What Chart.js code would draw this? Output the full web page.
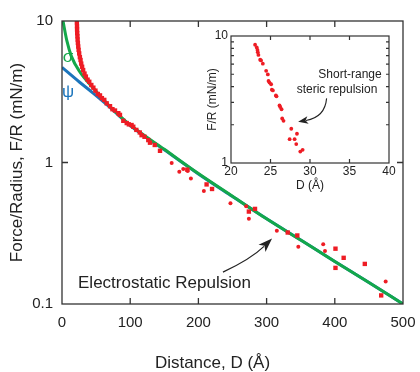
<!DOCTYPE html>
<html><head><meta charset="utf-8">
<script src="https://cdn.jsdelivr.net/npm/chart.js@4.4.1/dist/chart.umd.min.js"></script>
<style>
html,body{margin:0;padding:0;background:#fff;}
#wrap{position:relative;width:420px;height:372px;}
#main{position:absolute;left:0;top:0;}
#inset{position:absolute;left:196px;top:26px;}
</style></head><body>
<div id="wrap"><canvas id="main" width="420" height="372"></canvas><canvas id="inset" width="214" height="168"></canvas></div>
<script>
// ---------- data ----------
const xTicks = [0, 100, 200, 300, 400, 500];
const yTicks = [0.1, 1, 10];

// constant-potential (psi) fit
const psiD = [0, 25, 46, 70, 100, 150, 200, 250, 300, 350, 400, 450, 500];
const psiF = [4.7, 3.72, 3.08, 2.46, 1.82, 1.23, 0.83, 0.575, 0.40, 0.283, 0.20, 0.142, 0.10];

// constant-charge (sigma) fit
const sigmaD = [1.5, 7, 14, 26, 46, 70, 100, 150, 200, 250, 300, 350, 400, 450, 500];
const sigmaF = [10, 7.3, 5.6, 4.38, 3.35, 2.5, 1.84, 1.24, 0.835, 0.577, 0.40, 0.283, 0.20, 0.142, 0.10];

// measured force data, square markers
const squareD = [21.8, 22.0, 22.1, 22.3, 22.6, 22.9, 23.3, 23.8, 24.4, 25.2, 26.2, 27.2, 28.2, 29.5, 31.0, 33.0, 35.0, 37.5, 40.0, 43.0, 46.0, 49.0, 52.5, 55.7, 58.5, 62.0, 65.5, 70.4, 74.0, 77.7, 82.6, 85.0, 89.9, 94.9, 98.0, 102.0, 104.5, 109.0, 114.0, 116.7, 121.0, 126.5, 129.0, 136.0, 143.7, 183.7, 212, 220, 274, 283, 331, 345, 401, 413, 401, 444, 468];
const squareF = [9.8, 9.2, 8.7, 8.2, 7.8, 7.4, 7.0, 6.6, 6.25, 5.9, 5.55, 5.3, 5.0, 4.75, 4.5, 4.25, 4.05, 3.85, 3.72, 3.53, 3.38, 3.22, 3.05, 2.98, 2.85, 2.77, 2.62, 2.50, 2.38, 2.33, 2.23, 2.17, 1.97, 1.90, 1.86, 1.84, 1.79, 1.70, 1.63, 1.56, 1.52, 1.44, 1.38, 1.33, 1.21, 0.89, 0.70, 0.65, 0.45, 0.47, 0.32, 0.305, 0.246, 0.212, 0.18, 0.192, 0.115];

// measured force data, round markers
const dotD = [160.8, 172, 177.8, 184.3, 189, 208, 247, 270, 274, 315, 346.5, 383, 385.6, 474.6];
const dotF = [0.99, 0.86, 0.90, 0.87, 0.77, 0.63, 0.515, 0.49, 0.40, 0.33, 0.254, 0.264, 0.237, 0.144];

// inset: short-range steric repulsion
const insetXTicks = [20, 25, 30, 35, 40];
const insetYTicks = [1, 10];
const insetMinorY = [2, 3, 4, 5, 6, 7, 8, 9];
const insetD = [23.05, 23.26, 23.35, 23.39, 23.47, 23.69, 23.81, 24.03, 24.45, 24.66, 24.75, 24.87, 25.08, 25.17, 25.30, 25.68, 25.76, 26.14, 26.23, 26.40, 26.48, 26.65, 27.63, 28.35, 27.42, 28.05, 28.26, 28.77, 29.07];
const insetF = [8.53, 8.13, 7.76, 7.45, 7.10, 6.50, 6.42, 6.05, 5.32, 4.98, 4.43, 4.30, 4.17, 3.78, 3.73, 3.40, 3.35, 2.84, 2.76, 2.65, 2.24, 2.15, 1.86, 1.70, 1.54, 1.54, 1.41, 1.23, 1.27];

// ---------- styling ----------
const FONT = "'Liberation Sans', Arial, Helvetica, sans-serif";
const RED = '#ee1c24', GREEN = '#14a84a', BLUE = '#1c75bc', INK = '#222', FRAME = '#333';
const pts = (xs, ys) => xs.map((x, i) => ({x: x, y: ys[i]}));
const noPad = s => { s.paddingLeft = 0; s.paddingRight = 0; s.paddingTop = 0; s.paddingBottom = 0; };

function arrow(ctx, x0, y0, cx, cy, x1, y1, len, half) {
  ctx.beginPath();
  ctx.moveTo(x0, y0);
  const ang = Math.atan2(y1 - cy, x1 - cx);
  const bx = x1 - Math.cos(ang) * len * 0.8, by = y1 - Math.sin(ang) * len * 0.8;
  ctx.quadraticCurveTo(cx, cy, bx, by);
  ctx.stroke();
  ctx.beginPath();
  ctx.moveTo(x1, y1);
  ctx.lineTo(x1 - Math.cos(ang) * len + Math.sin(ang) * half, y1 - Math.sin(ang) * len - Math.cos(ang) * half);
  ctx.lineTo(x1 - Math.cos(ang) * len * 0.75, y1 - Math.sin(ang) * len * 0.75);
  ctx.lineTo(x1 - Math.cos(ang) * len - Math.sin(ang) * half, y1 - Math.sin(ang) * len + Math.cos(ang) * half);
  ctx.closePath();
  ctx.fill();
}

const mainDecor = {
  id: 'mainDecor',
  afterDraw(chart) {
    const {ctx, chartArea: a, scales: {x, y}} = chart;
    ctx.save();
    ctx.strokeStyle = FRAME; ctx.lineWidth = 1.3;
    ctx.strokeRect(a.left, a.top, a.right - a.left, a.bottom - a.top);
    ctx.beginPath();
    xTicks.forEach(v => {
      const px = x.getPixelForValue(v);
      if (px <= a.left + 1 || px >= a.right - 1) return;
      ctx.moveTo(px, a.bottom); ctx.lineTo(px, a.bottom - 6);
      ctx.moveTo(px, a.top); ctx.lineTo(px, a.top + 6);
    });
    yTicks.forEach(v => {
      const py = y.getPixelForValue(v);
      if (py <= a.top + 1 || py >= a.bottom - 1) return;
      ctx.moveTo(a.left, py); ctx.lineTo(a.left + 6, py);
      ctx.moveTo(a.right, py); ctx.lineTo(a.right - 6, py);
    });
    ctx.stroke();
    // axis title (x)
    ctx.fillStyle = INK; ctx.textBaseline = 'middle'; ctx.textAlign = 'center';
    ctx.font = '17px ' + FONT;
    ctx.fillText('Distance, D (Å)', 212.5, 363);
    // curve labels
    ctx.fillStyle = GREEN; ctx.font = '17px ' + FONT;
    ctx.fillText('σ', x.getPixelForValue(8.8), y.getPixelForValue(5.57));
    ctx.fillStyle = BLUE;
    ctx.fillText('ψ', x.getPixelForValue(8.8), y.getPixelForValue(3.15));
    // annotation
    ctx.fillStyle = INK; ctx.textAlign = 'left';
    ctx.fillText('Electrostatic Repulsion', x.getPixelForValue(23.5), y.getPixelForValue(0.141));
    ctx.strokeStyle = INK; ctx.lineWidth = 1.2;
    arrow(ctx, x.getPixelForValue(236), y.getPixelForValue(0.168),
          x.getPixelForValue(277), y.getPixelForValue(0.208),
          x.getPixelForValue(308), y.getPixelForValue(0.29), 14, 5);
    ctx.restore();
  }
};

new Chart(document.getElementById('main'), {
  type: 'scatter',
  data: {datasets: [
    {label: 'ψ', type: 'line', data: pts(psiD, psiF), borderColor: BLUE, borderWidth: 3, pointRadius: 0, cubicInterpolationMode: 'monotone', fill: false, order: 3},
    {label: 'σ', type: 'line', data: pts(sigmaD, sigmaF), borderColor: GREEN, borderWidth: 3, pointRadius: 0, cubicInterpolationMode: 'monotone', fill: false, order: 2},
    {label: 'data (squares)', data: pts(squareD, squareF), pointStyle: 'rect', pointRadius: 3.1, backgroundColor: RED, borderWidth: 0, order: 1},
    {label: 'data (dots)', data: pts(dotD, dotF), pointStyle: 'circle', pointRadius: 2, backgroundColor: RED, borderWidth: 0, order: 0}
  ]},
  options: {
    responsive: false, animation: false,
    layout: {padding: {left: 0, top: 21, right: 17, bottom: 0}},
    plugins: {legend: {display: false}, tooltip: {enabled: false}},
    scales: {
      x: {type: 'linear', min: 0, max: 500,
        afterBuildTicks: s => { s.ticks = xTicks.map(v => ({value: v})); },
        afterFit: s => { s.height = 68; noPad(s); },
        ticks: {font: {family: FONT, size: 15}, color: INK, padding: 10, maxRotation: 0, autoSkip: false},
        grid: {display: false, drawTicks: false}, border: {display: false}},
      y: {type: 'logarithmic', min: 0.1, max: 10,
        afterBuildTicks: s => { s.ticks = yTicks.map(v => ({value: v})); },
        afterFit: s => { s.width = 62; noPad(s); },
        ticks: {font: {family: FONT, size: 15}, color: INK, padding: 9, autoSkip: false, callback: v => String(v)},
        grid: {display: false, drawTicks: false}, border: {display: false},
        title: {display: true, text: 'Force/Radius, F/R (mN/m)', font: {family: FONT, size: 17}, color: INK, padding: {top: 7, bottom: 0}}}
    }
  },
  plugins: [mainDecor]
});

const insetDecor = {
  id: 'insetDecor',
  afterDraw(chart) {
    const {ctx, chartArea: a, scales: {x, y}} = chart;
    ctx.save();
    ctx.strokeStyle = FRAME; ctx.lineWidth = 1.2;
    ctx.strokeRect(a.left, a.top, a.right - a.left, a.bottom - a.top);
    ctx.beginPath();
    insetXTicks.forEach(v => {
      const px = x.getPixelForValue(v);
      if (px <= a.left + 1 || px >= a.right - 1) return;
      ctx.moveTo(px, a.bottom); ctx.lineTo(px, a.bottom - 4);
      ctx.moveTo(px, a.top); ctx.lineTo(px, a.top + 4);
    });
    insetMinorY.forEach(v => {
      const py = y.getPixelForValue(v);
      ctx.moveTo(a.left, py); ctx.lineTo(a.left + 3, py);
      ctx.moveTo(a.right, py); ctx.lineTo(a.right - 3, py);
    });
    ctx.stroke();
    ctx.fillStyle = INK; ctx.font = '12px ' + FONT; ctx.textAlign = 'center'; ctx.textBaseline = 'middle';
    ctx.fillText('Short-range', x.getPixelForValue(35.06), y.getPixelForValue(4.93));
    ctx.fillText('steric repulsion', x.getPixelForValue(33.42), y.getPixelForValue(3.76));
    ctx.strokeStyle = INK; ctx.lineWidth = 1.1;
    arrow(ctx, x.getPixelForValue(32.1), y.getPixelForValue(3.23),
          x.getPixelForValue(31.9), y.getPixelForValue(2.30),
          x.getPixelForValue(28.5), y.getPixelForValue(2.11), 10, 3.8);
    ctx.restore();
  }
};

new Chart(document.getElementById('inset'), {
  type: 'scatter',
  data: {datasets: [
    {label: 'steric', data: pts(insetD, insetF), pointStyle: 'circle', pointRadius: 1.9, backgroundColor: RED, borderWidth: 0}
  ]},
  options: {
    responsive: false, animation: false,
    layout: {padding: {left: 0, top: 10, right: 21, bottom: 0}},
    plugins: {legend: {display: false}, tooltip: {enabled: false}},
    scales: {
      x: {type: 'linear', min: 20, max: 40,
        afterBuildTicks: s => { s.ticks = insetXTicks.map(v => ({value: v})); },
        afterFit: s => { s.height = 31; noPad(s); },
        ticks: {font: {family: FONT, size: 12}, color: INK, padding: 1, maxRotation: 0, autoSkip: false},
        grid: {display: false, drawTicks: false}, border: {display: false},
        title: {display: true, text: 'D (Å)', font: {family: FONT, size: 12}, color: INK, padding: {top: 0, bottom: 1}}},
      y: {type: 'logarithmic', min: 1, max: 10,
        afterBuildTicks: s => { s.ticks = insetYTicks.map(v => ({value: v})); },
        afterFit: s => { s.width = 35; noPad(s); },
        ticks: {font: {family: FONT, size: 12}, color: INK, padding: 3, autoSkip: false, callback: v => String(v)},
        grid: {display: false, drawTicks: false}, border: {display: false},
        title: {display: true, text: 'F/R (mN/m)', font: {family: FONT, size: 12}, color: INK, padding: {top: 9, bottom: 0}}}
    }
  },
  plugins: [insetDecor]
});
</script>
</body></html>
